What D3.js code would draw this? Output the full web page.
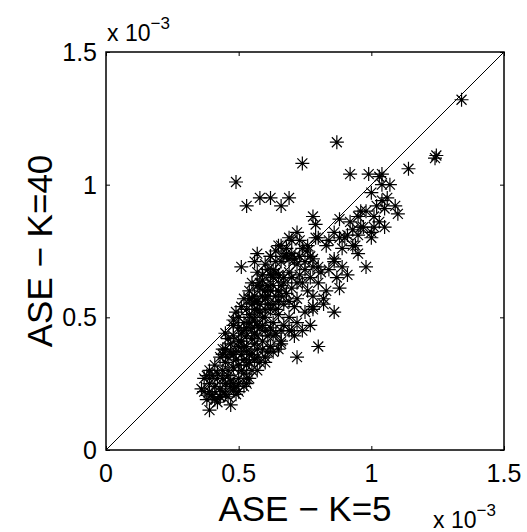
<!DOCTYPE html>
<html>
<head>
<meta charset="utf-8">
<script src="https://cdn.jsdelivr.net/npm/d3@7"></script>
<style>
body { margin: 0; background: #fff; }
text { font-family: "Liberation Sans", Arial, Helvetica, sans-serif; fill: #000; }
</style>
</head>
<body>
<script>
// ASE values, in units of 1e-3: [K=5, K=40]
const sparsePoints = [
[1.34,1.32],[1.24,1.10],[1.245,1.11],[1.14,1.06],[1.04,1.04],[0.87,1.16],[0.74,1.08],[0.92,1.04],[0.99,1.04],[1.03,1.03],
[0.49,1.01],[0.53,0.92],[0.58,0.95],[0.62,0.95],[0.66,0.92],[0.69,0.95],[1.04,1.00],[1.07,1.00],[1.00,0.97],[1.04,0.94],
[1.09,0.92],[1.10,0.89],[1.05,0.91],[0.96,0.90],[0.95,0.88],[0.88,0.87],[0.78,0.88],[0.79,0.85],[1.03,0.86],[1.05,0.84],
[1.01,0.84],[0.97,0.84],[0.93,0.83],[0.91,0.81],[1.00,0.80],[0.95,0.81],[0.88,0.80],[0.84,0.79],[0.80,0.80],[0.69,0.80],
[0.73,0.79],[0.76,0.77],[0.65,0.77],[0.57,0.74],[0.62,0.73],[0.69,0.72],[0.77,0.73],[0.89,0.76],[0.93,0.77],[0.95,0.74],
[0.51,0.69],[0.56,0.71],[0.86,0.71],[0.89,0.69],[0.98,0.69],[0.78,0.69],[0.81,0.67],[0.57,0.62],[0.87,0.65],[0.88,0.61],
[0.91,0.66],[0.86,0.52],[0.78,0.54],[0.82,0.57],[0.77,0.47],[0.80,0.39],[0.72,0.35],[0.53,0.25],[0.39,0.15],[0.37,0.27],
[0.36,0.23],[0.44,0.38],[0.45,0.44],[0.48,0.49],[0.55,0.57],[0.69,0.45],[0.66,0.40],[0.63,0.37],[0.60,0.33],[0.49,0.24],
[0.40,0.20],[0.43,0.20],[0.78,0.53],[0.71,0.43],[0.74,0.45],[0.65,0.38],[0.57,0.30],[0.48,0.25],[0.38,0.28]
];

const corePoints = [
[0.38,0.19],[0.40,0.21],[0.42,0.18],[0.44,0.22],[0.41,0.24],[0.46,0.20],[0.48,0.23],[0.39,0.25],[0.45,0.25],[0.50,0.22],
[0.43,0.20],[0.52,0.24],[0.37,0.22],[0.47,0.17],[0.40,0.28],
[0.42,0.27],[0.44,0.30],[0.46,0.28],[0.48,0.31],[0.50,0.27],[0.52,0.29],[0.41,0.32],[0.45,0.33],[0.49,0.34],[0.53,0.32],
[0.55,0.30],[0.47,0.26],[0.51,0.36],[0.56,0.34],[0.43,0.35],[0.58,0.33],[0.54,0.27],[0.39,0.30],[0.60,0.35],
[0.45,0.38],[0.47,0.40],[0.49,0.37],[0.51,0.41],[0.53,0.39],[0.55,0.42],[0.57,0.38],[0.48,0.43],[0.52,0.45],[0.56,0.44],
[0.59,0.41],[0.61,0.43],[0.46,0.42],[0.50,0.39],[0.54,0.36],[0.58,0.46],[0.62,0.39],[0.64,0.44],[0.44,0.36],[0.66,0.41],
[0.48,0.47],[0.50,0.50],[0.52,0.48],[0.54,0.51],[0.56,0.49],[0.58,0.52],[0.60,0.50],[0.62,0.53],[0.51,0.54],[0.55,0.55],
[0.59,0.47],[0.63,0.48],[0.65,0.51],[0.67,0.47],[0.57,0.53],[0.53,0.46],[0.69,0.50],[0.61,0.55],[0.49,0.52],[0.71,0.54],
[0.52,0.57],[0.54,0.60],[0.56,0.58],[0.58,0.61],[0.60,0.57],[0.62,0.60],[0.64,0.58],[0.66,0.62],[0.68,0.59],[0.55,0.63],
[0.59,0.64],[0.63,0.65],[0.70,0.61],[0.72,0.57],[0.74,0.63],[0.57,0.56],[0.65,0.56],[0.61,0.62],[0.67,0.65],[0.76,0.60],
[0.57,0.67],[0.60,0.70],[0.63,0.68],[0.66,0.71],[0.69,0.67],[0.72,0.70],[0.75,0.68],[0.78,0.72],[0.62,0.73],[0.68,0.74],
[0.73,0.66],[0.80,0.69],[0.65,0.66],[0.71,0.72],[0.77,0.65],[0.59,0.66],
[0.66,0.77],[0.70,0.79],[0.74,0.76],[0.79,0.80],[0.83,0.77],[0.72,0.82],[0.86,0.82],[0.68,0.76]
];

const denseCorePoints = [
[0.41,0.19],[0.43,0.23],[0.45,0.21],[0.47,0.24],[0.49,0.21],[0.44,0.27],[0.46,0.30],[0.50,0.25],[0.51,0.30],[0.53,0.27],
[0.42,0.29],[0.39,0.22],
[0.46,0.35],[0.48,0.36],[0.50,0.32],[0.52,0.34],[0.54,0.33],[0.47,0.37],[0.53,0.37],[0.55,0.36],[0.57,0.35],[0.50,0.41],
[0.52,0.39],[0.56,0.40],[0.59,0.38],[0.61,0.37],
[0.51,0.44],[0.53,0.43],[0.55,0.46],[0.57,0.43],[0.54,0.48],[0.57,0.47],[0.60,0.45],[0.50,0.46],[0.62,0.46],[0.59,0.50],
[0.55,0.50],[0.63,0.43],[0.66,0.45],
[0.53,0.53],[0.56,0.53],[0.58,0.55],[0.60,0.53],[0.63,0.55],[0.59,0.58],[0.61,0.58],[0.64,0.53],[0.67,0.55],[0.54,0.57],
[0.66,0.58],[0.69,0.56],
[0.58,0.63],[0.60,0.60],[0.63,0.62],[0.65,0.60],[0.62,0.66],[0.64,0.67],[0.67,0.63],[0.70,0.65],[0.61,0.68],[0.72,0.63],
[0.64,0.71],[0.67,0.73],[0.70,0.74],[0.73,0.73],[0.75,0.71],[0.64,0.75],[0.76,0.75]
];

const upperPoints = [
[0.92,0.86],[0.98,0.90],[1.02,0.92],[0.96,0.84],[1.01,0.88],[1.06,0.95],[0.90,0.80],[0.94,0.77],[1.00,0.82],[0.86,0.72],
[0.84,0.68],[0.80,0.63],[0.83,0.60],[0.78,0.58],[0.82,0.55],[0.75,0.52],[0.72,0.48],[0.70,0.45]
];

const tickValues = [0, 0.5, 1, 1.5];
const tickLabels = ["0", "0.5", "1", "1.5"];
const xLabel = "ASE \u2212 K=5";
const yLabel = "ASE \u2212 K=40";

const width = 527, height = 532;
const mLeft = 106, mTop = 52, size = 398;

const svg = d3.select("body").append("svg")
  .attr("width", width)
  .attr("height", height);

const x = d3.scaleLinear().domain([0, 1.5]).range([mLeft, mLeft + size]);
const y = d3.scaleLinear().domain([0, 1.5]).range([mTop + size, mTop]);

// diagonal y = x
svg.append("line")
  .attr("x1", x(0)).attr("y1", y(0))
  .attr("x2", x(1.5)).attr("y2", y(1.5))
  .attr("stroke", "#000").attr("stroke-width", 1);

// points as matlab '*' markers
const starPath = "M-7,0H7M0,-7V7M-5,-5L5,5M-5,5L5,-5";
const allPoints = corePoints.concat(denseCorePoints, sparsePoints, upperPoints);
svg.append("g").selectAll("path")
  .data(allPoints)
  .enter().append("path")
  .attr("d", starPath)
  .attr("transform", d => "translate(" + x(d[0]) + "," + y(d[1]) + ")")
  .attr("fill", "none")
  .attr("stroke", "#000")
  .attr("stroke-width", 1.2);

// box
svg.append("rect")
  .attr("x", mLeft).attr("y", mTop)
  .attr("width", size).attr("height", size)
  .attr("fill", "none").attr("stroke", "#000").attr("stroke-width", 1.5);

// inward ticks, all four sides
const tl = 4;
const fmt = (d, i) => tickLabels[i];
svg.append("g").attr("transform", "translate(0," + (mTop + size) + ")")
  .call(d3.axisTop(x).tickValues(tickValues).tickSize(tl).tickFormat(""))
  .call(g => g.select(".domain").remove());
svg.append("g").attr("transform", "translate(0," + mTop + ")")
  .call(d3.axisBottom(x).tickValues(tickValues).tickSize(tl).tickFormat(""))
  .call(g => g.select(".domain").remove());
svg.append("g").attr("transform", "translate(" + mLeft + ",0)")
  .call(d3.axisRight(y).tickValues(tickValues).tickSize(tl).tickFormat(""))
  .call(g => g.select(".domain").remove());
svg.append("g").attr("transform", "translate(" + (mLeft + size) + ",0)")
  .call(d3.axisLeft(y).tickValues(tickValues).tickSize(tl).tickFormat(""))
  .call(g => g.select(".domain").remove());
svg.selectAll(".tick line").attr("stroke", "#000").attr("stroke-width", 1);

// tick labels
svg.append("g").selectAll("text")
  .data(tickValues)
  .enter().append("text")
  .attr("x", d => x(d))
  .attr("y", mTop + size + 32)
  .attr("text-anchor", "middle")
  .attr("font-size", 25)
  .text(fmt);

svg.append("g").selectAll("text")
  .data(tickValues)
  .enter().append("text")
  .attr("x", mLeft - 9)
  .attr("y", d => y(d) + 9)
  .attr("text-anchor", "end")
  .attr("font-size", 25)
  .text(fmt);

// exponent labels
function expLabel(px, py) {
  const t = svg.append("text").attr("x", px).attr("y", py).attr("font-size", 23);
  t.append("tspan").text("x 10");
  t.append("tspan").attr("font-size", 17).attr("dy", -12).text("\u22123");
}
expLabel(mLeft + 1, 41);
expLabel(433, 528);

// axis labels
svg.append("text")
  .attr("x", mLeft + size / 2)
  .attr("y", 521)
  .attr("text-anchor", "middle")
  .attr("font-size", 35)
  .text(xLabel);

svg.append("text")
  .attr("transform", "translate(52," + (mTop + size / 2) + ") rotate(-90)")
  .attr("text-anchor", "middle")
  .attr("font-size", 35)
  .text(yLabel);
</script>
</body>
</html>
